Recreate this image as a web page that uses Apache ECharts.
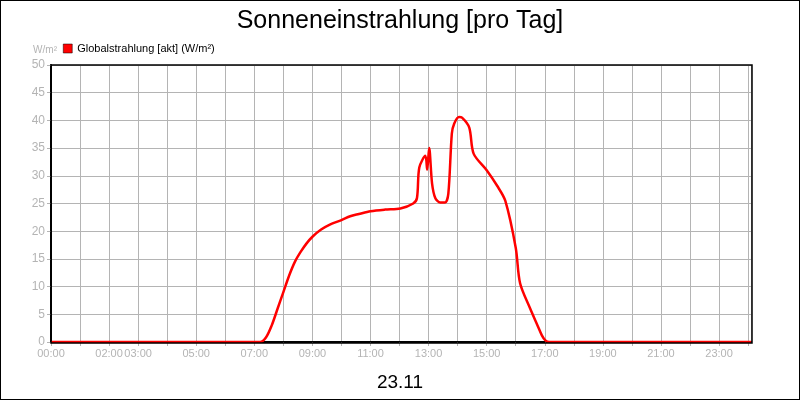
<!DOCTYPE html>
<html><head><meta charset="utf-8">
<script src="https://cdn.jsdelivr.net/npm/echarts@6/dist/echarts.min.js"></script>
<style>html,body{margin:0;padding:0;background:#fff}#c{width:800px;height:400px;box-sizing:border-box;border:1px solid #000}</style>
</head><body><div id="c"></div>
<script>
const hours = [0,7.2,7.4,7.6,7.8,8.0,8.2,8.4,8.6,8.8,9.0,9.3,9.6,10.0,10.3,10.6,11.0,11.5,12.03,12.47,12.6,12.68,12.89,12.95,13.02,13.12,13.23,13.4,13.57,13.68,13.8,13.88,14.05,14.15,14.4,14.55,15.0,15.36,15.64,16.0,16.15,16.5,16.75,16.9,17.02,17.15,24.1];
const values = [0,0,0.8,3,6,9,12,14.5,16.3,17.8,19,20.3,21.2,22,22.7,23.1,23.6,23.9,24.1,25,26,31.5,33.6,31.1,35,28.6,26,25.2,25.2,26.8,37.6,39.4,40.6,40.5,38.7,34,31,28.2,25.5,17,10.6,6,3,1.2,0.3,0,0];
const shownHours = [0,2,3,5,7,9,11,13,15,17,19,21,23];
const title = 'Sonneneinstrahlung [pro Tag]';
const dateLabel = '23.11';
const pad = n => (n<10?'0':'')+n+':00';
const gray = '#b4b4b4';
const chart = echarts.init(document.getElementById('c'));
chart.setOption({
  animation:false,
  title:[{text:title,left:'center',top:3,textStyle:{fontFamily:'Liberation Sans',fontSize:25,fontWeight:'normal',color:'#000'}},
         {text:dateLabel,left:'center',top:367,textStyle:{fontFamily:'Liberation Sans',fontSize:19,fontWeight:'normal',color:'#000'}}],
  legend:{left:57,top:37,itemWidth:9,itemHeight:9,icon:'rect',itemGap:4,textStyle:{fontFamily:'Liberation Sans',fontSize:11,color:'#000'},
    data:[{name:'Globalstrahlung [akt] (W/m²)',itemStyle:{color:'#ff0000',borderColor:'#000',borderWidth:0.5}}]},
  grid:{left:50,right:48,top:64,bottom:57},
  xAxis:{type:'value',min:0,max:24.1,interval:1,
    axisLine:{onZero:false,lineStyle:{color:'#000',width:2}},
    axisTick:{show:true,length:4,lineStyle:{color:gray}},
    splitLine:{show:true,lineStyle:{color:gray}},
    axisLabel:{color:gray,fontFamily:'Liberation Sans',fontSize:11,margin:6,showMaxLabel:false,
      formatter:v=>shownHours.includes(Math.round(v))?pad(Math.round(v)):''}},
  yAxis:{type:'value',min:0,max:50,interval:5,name:'W/m²',nameGap:10,
    nameTextStyle:{color:gray,fontFamily:'Liberation Sans',fontSize:10,align:'right',padding:[0,-6,0,0]},
    axisLine:{show:true,lineStyle:{color:'#000',width:2}},
    axisTick:{show:true,length:4,lineStyle:{color:gray}},
    splitLine:{lineStyle:{color:gray}},
    axisLabel:{color:gray,fontFamily:'Liberation Sans',fontSize:12,margin:6}},
  graphic:[{type:'rect',shape:{x:50,y:64,width:701,height:278},style:{fill:'none',stroke:'#000',lineWidth:1.5},z:100}],
  series:[{name:'Globalstrahlung [akt] (W/m²)',type:'line',showSymbol:false,smooth:0.3,
    data:hours.map((h,i)=>[h,values[i]]),lineStyle:{color:'#ff0000',width:2.5},itemStyle:{color:'#ff0000'},z:50}]
});
</script></body></html>
